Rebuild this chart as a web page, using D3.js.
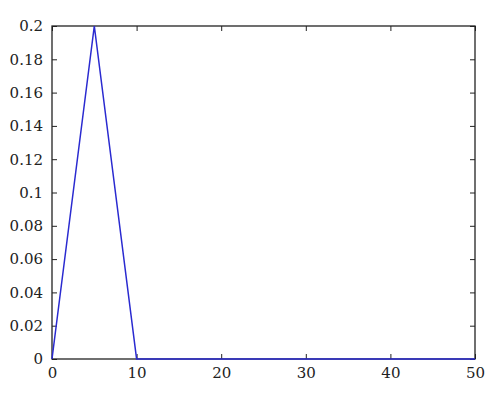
<!DOCTYPE html>
<html>
<head>
<meta charset="utf-8">
<script src="https://cdn.jsdelivr.net/npm/d3@7"></script>
<style>
  body { margin: 0; background: #fff; }
</style>
</head>
<body>
<svg width="500" height="401"></svg>
<script>
const svg = d3.select('svg');

// data
const xValues = [0, 5, 10, 15, 20, 25, 30, 35, 40, 45, 50];
const yValues = [0, 0.2, 0, 0, 0, 0, 0, 0, 0, 0, 0];
const xTicks = [0, 10, 20, 30, 40, 50];
const yTicks = [0, 0.02, 0.04, 0.06, 0.08, 0.1, 0.12, 0.14, 0.16, 0.18, 0.2];

const margin = {top: 26, left: 52, right: 25, bottom: 42};
const width = 500 - margin.left - margin.right;
const height = 401 - margin.top - margin.bottom;

const xScale = d3.scaleLinear().domain([0, 50]).range([0, width]);
const yScale = d3.scaleLinear().domain([0, 0.2]).range([height, 0]);

const g = svg.append('g')
    .attr('transform', 'translate(' + margin.left + ',' + margin.top + ')');

// serif labels, ticks pointing inward, no domain path (box drawn separately)
let styleAxis = (sel) => {
    sel.attr('font-family', 'DejaVu Serif').attr('font-size', 15);
    sel.select('.domain').remove();
    sel.selectAll('.tick line').attr('stroke', '#222').attr('stroke-width', 1);
    sel.selectAll('.tick text')
        .attr('font-family', 'DejaVu Serif')
        .attr('fill', '#222');
}

g.append('g')
    .attr('transform', 'translate(0,' + height + ')')
    .call(d3.axisBottom(xScale).tickValues(xTicks).tickSize(-5).tickPadding(8).tickFormat(d3.format('d')))
    .call(styleAxis);

g.append('g')
    .call(d3.axisTop(xScale).tickValues(xTicks).tickSize(-5).tickFormat(''))
    .call(styleAxis);

g.append('g')
    .call(d3.axisLeft(yScale).tickValues(yTicks).tickSize(-5).tickPadding(9).tickFormat(d => d === 0 ? '0' : String(+d.toFixed(2))))
    .call(styleAxis);

g.append('g')
    .attr('transform', 'translate(' + width + ',0)')
    .call(d3.axisRight(yScale).tickValues(yTicks).tickSize(-5).tickFormat(''))
    .call(styleAxis);

g.append('rect')
    .attr('x', 0).attr('y', 0)
    .attr('width', width).attr('height', height)
    .attr('fill', 'none')
    .attr('stroke', '#222')
    .attr('stroke-width', 1.3);

const line = d3.line()
    .x((d, i) => xScale(xValues[i]))
    .y(d => yScale(d));

g.append('path')
    .datum(yValues)
    .attr('d', line)
    .attr('fill', 'none')
    .attr('stroke', '#2a2ad0')
    .attr('stroke-width', 1.5);
</script>
</body>
</html>
